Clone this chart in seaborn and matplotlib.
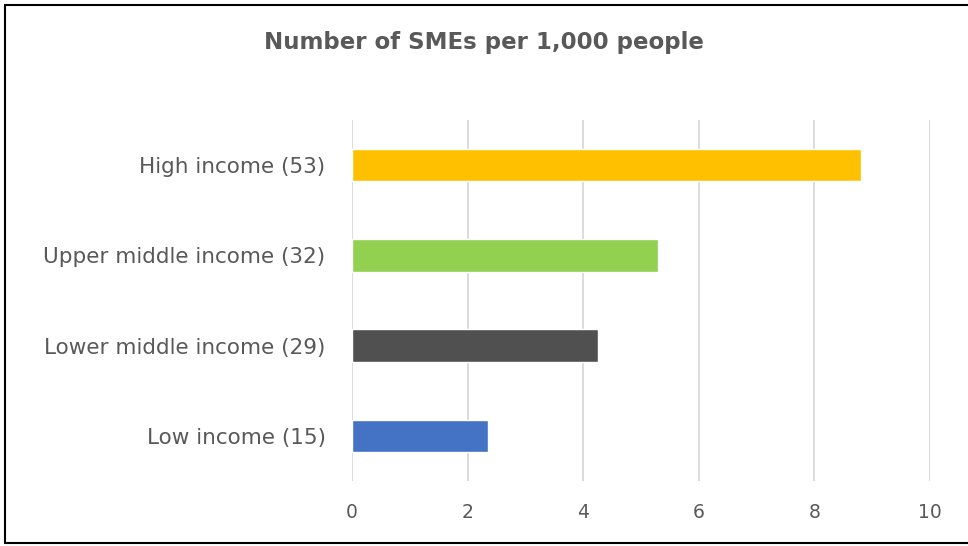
import matplotlib
matplotlib.use('Agg')
import matplotlib.pyplot as plt
import seaborn as sns
import pandas as pd
from matplotlib.lines import Line2D

categories = ["High income (53)", "Upper middle income (32)",
              "Lower middle income (29)", "Low income (15)"]
values = [8.8, 5.3, 4.25, 2.35]
colors = ["#FFC000", "#92D050", "#505050", "#4472C4"]
x_ticks = [0, 2, 4, 6, 8, 10]

df = pd.DataFrame({"Group": categories, "SMEs": values})

sns.set_theme(style="white")
plt.rcParams['font.family'] = ['DejaVu Sans']

fig = plt.figure(figsize=(9.68, 5.46), dpi=100)
ax = fig.add_axes([352 / 968, 1 - 481 / 546, (930 - 352) / 968, 361 / 546])

sns.barplot(data=df, x="SMEs", y="Group", hue="Group", palette=colors,
            legend=False, width=0.36, ax=ax, saturation=1)

ax.set_xlim(0, 10)
ax.set_ylim(3.5, -0.5)
ax.set_xticks(x_ticks)
ax.xaxis.grid(True, color="#d9d9d9", linewidth=1.3)
ax.set_axisbelow(True)
for s in ax.spines.values():
    s.set_visible(False)
ax.tick_params(axis="x", length=0, labelsize=13.5, colors="#595959", pad=16)
ax.tick_params(axis="y", length=0, labelsize=15.5, colors="#595959", pad=19)
ax.set_xlabel("")
ax.set_ylabel("")

fig.text(0.5, 1 - 42 / 546, "Number of SMEs per 1,000 people", ha="center",
         va="center", fontsize=16.5, fontweight="bold", color="#595959")

# outer frame (top, left, bottom)
fig.add_artist(Line2D([5 / 968, 1], [1 - 5 / 546, 1 - 5 / 546], transform=fig.transFigure, color="black", linewidth=1.5))
fig.add_artist(Line2D([5 / 968, 5 / 968], [1 - 5 / 546, 3 / 546], transform=fig.transFigure, color="black", linewidth=1.5))
fig.add_artist(Line2D([5 / 968, 1], [3 / 546, 3 / 546], transform=fig.transFigure, color="black", linewidth=1.5))

fig.savefig("out.png", dpi=100)
